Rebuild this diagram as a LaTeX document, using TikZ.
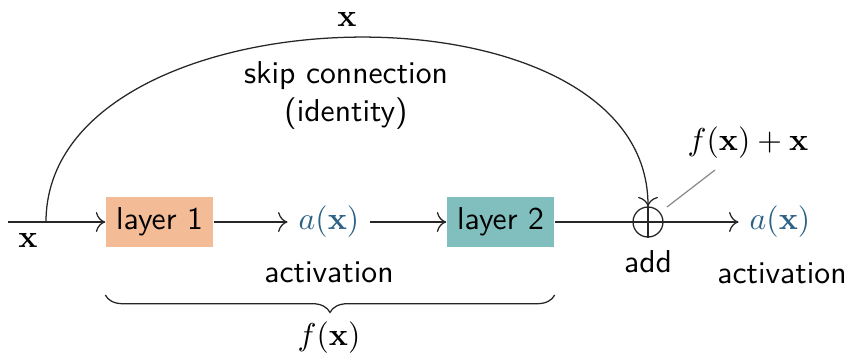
\documentclass[tikz,border=0pt]{standalone}
\usetikzlibrary{decorations.pathreplacing,arrows.meta}
\definecolor{peach}{RGB}{244,187,151}
\definecolor{tealbox}{RGB}{128,191,189}
\definecolor{actblue}{RGB}{45,98,135}
\begin{document}
\begin{tikzpicture}[x=0.0111111cm,y=0.0111111cm,
  line/.style={draw=black!85, line width=0.4pt},
  arr/.style={line, -{To[length=3pt]}},
  layerbox/.style={rectangle, minimum width=1.19cm, minimum height=0.556cm, inner sep=0pt, font=\sffamily},
  lbl/.style={font=\sffamily, inner sep=0pt},
  act/.style={text=actblue}]
\useasboundingbox (0,0) rectangle (847,356);
\coordinate (in) at (8,134);
\coordinate (split) at (46,134);
\node[layerbox, fill=peach] (l1) at (159.5,134) {layer 1};
\node[act] (a1) at (329,134) {$a(\mathbf{x})$};
\node[layerbox, fill=tealbox] (l2) at (500.5,134) {layer 2};
\node[circle, line, minimum size=0.333cm, inner sep=0pt] (add) at (648,134) {};
\node[act] (a2) at (780,134) {$a(\mathbf{x})$};
\node[lbl] (act1) at (329,84) {activation};
\node[lbl] (act2) at (782,83) {activation};
\node[lbl] (addl) at (648,94) {add};
\node[inner sep=0pt] (xin) at (28,116) {$\mathbf{x}$};
\node[lbl, align=center] (skip) at (346,261) {skip connection\\(identity)};
\node[inner sep=0pt] (fxx) at (748,213) {$f(\mathbf{x})+\mathbf{x}$};
\coordinate (pinend) at (667,149);
\coordinate (pinstart) at (715,186);

\draw[line] (add.north) -- (add.south) (add.west) -- (add.east);
\draw[arr] (in) -- (l1);
\draw[arr] (l1) -- (a1);
\draw[arr] (a1) -- (l2);
\draw[line] (l2) -- (add);
\draw[arr] (add) -- (a2);
\draw[arr] (split) to[out=90,in=90] node[above] (xtop) {$\mathbf{x}$} (add.north);
\draw[black!45, line width=0.4pt] (pinstart) -- (pinend);
\draw[line, decorate, decoration={brace, mirror, amplitude=5.5pt}]
  (l1.south west |- 0,61) coordinate (bl) -- (l2.south east |- 0,61) coordinate (br);
\node (fx) at (329,18) {$f(\mathbf{x})$};
\end{tikzpicture}
\end{document}
